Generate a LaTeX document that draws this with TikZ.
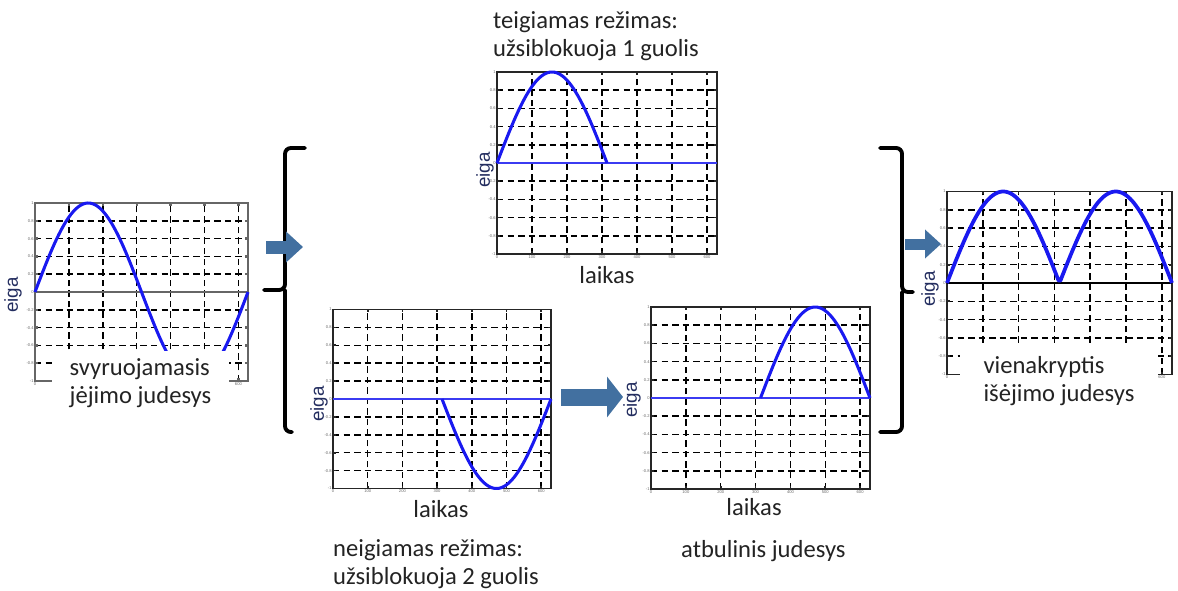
\documentclass[tikz,border=0pt]{standalone}
\usepackage{fontspec}
\setmainfont{Carlito}
\newfontfamily\asisfont{Liberation Sans}
\usetikzlibrary{arrows.meta}

\definecolor{signalas}{RGB}{25,25,240}
\definecolor{rodykle}{RGB}{66,112,160}
\definecolor{tekstas}{RGB}{35,35,35}
\definecolor{eigaspalva}{RGB}{35,45,95}

% grid, ticks and frame of one plot (t: 0..2pi, eiga: -1..1)
\newcommand{\tinklelis}[3]{%
  \foreach \t in {1,...,6}
    \draw[tinklas] (\t,-1) -- (\t,1);
  \foreach \v in {-0.8,-0.6,-0.4,-0.2,0.2,0.4,0.6,0.8}
    \draw[tinklas] (0,\v) -- (6.2832,\v);
  \foreach \v [count=\i] in {1,0.8,0.6,0.4,0.2,0,-0.2,-0.4,-0.6,-0.8,-1} {
    \draw[#1] (0,\v) -- ++(0.09cm,0pt);
    \draw[#1] (6.2832,\v) -- ++(-0.09cm,0pt);
    \node[zyme, anchor=east] (#2y\i) at (0,\v) {\v};
  }
  \foreach \t in {0,...,6} {
    \draw[#1] (\t,-1) -- ++(0pt,0.09cm);
    \draw[#1] (\t,1) -- ++(0pt,-0.09cm);
  }
  \foreach \t/\l in {#3}
    \node[zyme, anchor=north] (#2x\t) at (\t,-1) {\l};
  \draw[#1] (0,-1) rectangle (6.2832,1);
}

\begin{document}
\begin{tikzpicture}[
	x=0.03cm, y=-0.03cm,
	tinklas/.style={black, line width=1.3pt, dash pattern=on 5.5pt off 3.5pt},
	remas/.style={black!85, line width=1.4pt},
	remaspilkas/.style={black!60, line width=2pt},
	zyme/.style={font=\asisfont\fontsize{3.5}{4}\selectfont, text=black!60, inner sep=1pt},
	kreive/.style={signalas, line width=2.6pt, line join=round},
	nulis/.style={signalas!85, line width=1.4pt},
	etikete/.style={font=\fontsize{21}{24.5}\selectfont, text=tekstas, align=left, inner sep=0pt},
	langelis/.style={etikete, fill=white, font=\fontsize{21}{23.5}\selectfont},
	eiga/.style={font=\asisfont\fontsize{16}{18}\selectfont, text=eigaspalva, rotate=90, inner sep=0pt},
	skliaustas/.style={black, line width=3.3pt, rounded corners=5pt, line cap=round},
	blokine/.style={rodykle}
]
\useasboundingbox (0,0) rectangle (1178,591);

% Input: oscillating motion
\begin{scope}[shift={(35,292)}, x=1.017cm, y=2.67cm]
  \tinklelis{remaspilkas}{a}{0/0,6/600}
  \draw[black!60, line width=1.6pt] (0,0) -- (6.2832,0);
  \draw[kreive] plot[domain=0:6.2832, samples=90] (\x,{sin(\x r)});
\end{scope}
\node[langelis, minimum width=5.31cm, minimum height=1.95cm] (ivestis) at (140.5,383) {svyruojamasis\\jėjimo judesys};
\node[eiga] (eiga1) at (13,295) {eiga};

% Positive mode
\begin{scope}[shift={(497,163)}, x=1.0504cm, y=2.73cm]
  \tinklelis{remas}{b}{0/0,1/100,2/200,3/300,4/400,5/500,6/600}
  \draw[nulis] (0,0) -- (6.2832,0);
  \draw[kreive] plot[domain=0:3.1416, samples=60] (\x,{sin(\x r)});
\end{scope}
\node[etikete, anchor=north west] (teig) at (493,11) {teigiamas režimas:\\užsiblokuoja 1 guolis};
\node[etikete, anchor=base] (laikas2) at (607,283) {laikas};
\node[eiga] (eiga2) at (485,170) {eiga};

% Negative mode
\begin{scope}[shift={(333,399)}, x=1.0409cm, y=2.685cm]
  \tinklelis{remas}{c}{0/0,1/100,2/200,3/300,4/400,5/500,6/600}
  \draw[nulis] (0,0) -- (6.2832,0);
  \draw[kreive] plot[domain=3.1416:6.2832, samples=60] (\x,{sin(\x r)});
\end{scope}
\node[etikete, anchor=north west] (neig) at (333,539) {neigiamas režimas:\\užsiblokuoja 2 guolis};
\node[etikete, anchor=base] (laikas3) at (441,517) {laikas};
\node[eiga] (eiga3) at (319,404) {eiga};

% Reversed motion
\begin{scope}[shift={(651,398)}, x=1.0456cm, y=2.73cm]
  \tinklelis{remas}{d}{0/0,1/100,2/200,3/300,4/400,5/500,6/600}
  \draw[nulis] (0,0) -- (6.2832,0);
  \draw[kreive] plot[domain=3.1416:6.2832, samples=60] (\x,{-sin(\x r)});
\end{scope}
\node[etikete, anchor=north west] (atb) at (681,540) {atbulinis judesys};
\node[etikete, anchor=base] (laikas4) at (754,515) {laikas};
\node[eiga] (eiga4) at (632,400) {eiga};

% Output: one-way motion
\begin{scope}[shift={(947,283)}, x=1.0743cm, y=2.745cm]
  \tinklelis{remas}{e}{0/0,6/600}
  \draw[black, line width=1.4pt] (0,0) -- (6.2832,0);
  \draw[kreive, line width=3.2pt] plot[domain=0:6.2832, samples=120] (\x,{abs(sin(\x r))});
\end{scope}
\node[langelis, minimum width=5.94cm, minimum height=2.04cm] (isvestis) at (1059,381) {vienakryptis\\išėjimo judesys};
\node[eiga] (eiga5) at (930,289) {eiga};

% Brackets
\draw[skliaustas] (305,148) -| (285,290) -- (264,290);
\draw[skliaustas] (285,290) |- (292,432);
\draw[skliaustas] (880,148) -| (902,292) -- (913,292);
\draw[skliaustas] (902,292) |- (880,432);

% Block arrows
\coordinate (r1a) at (266,247);
\coordinate (r1b) at (303,247);
\coordinate (r2a) at (561,397);
\coordinate (r2b) at (623,397);
\coordinate (r3a) at (905,244);
\coordinate (r3b) at (941,244);
\draw[blokine, line width=0.39cm, -{Triangle[length=0.51cm, width=0.9cm]}] (r1a) -- (r1b);
\draw[blokine, line width=0.51cm, -{Triangle[length=0.48cm, width=1.2cm]}] (r2a) -- (r2b);
\draw[blokine, line width=0.33cm, -{Triangle[length=0.48cm, width=0.84cm]}] (r3a) -- (r3b);
\end{tikzpicture}
\end{document}
